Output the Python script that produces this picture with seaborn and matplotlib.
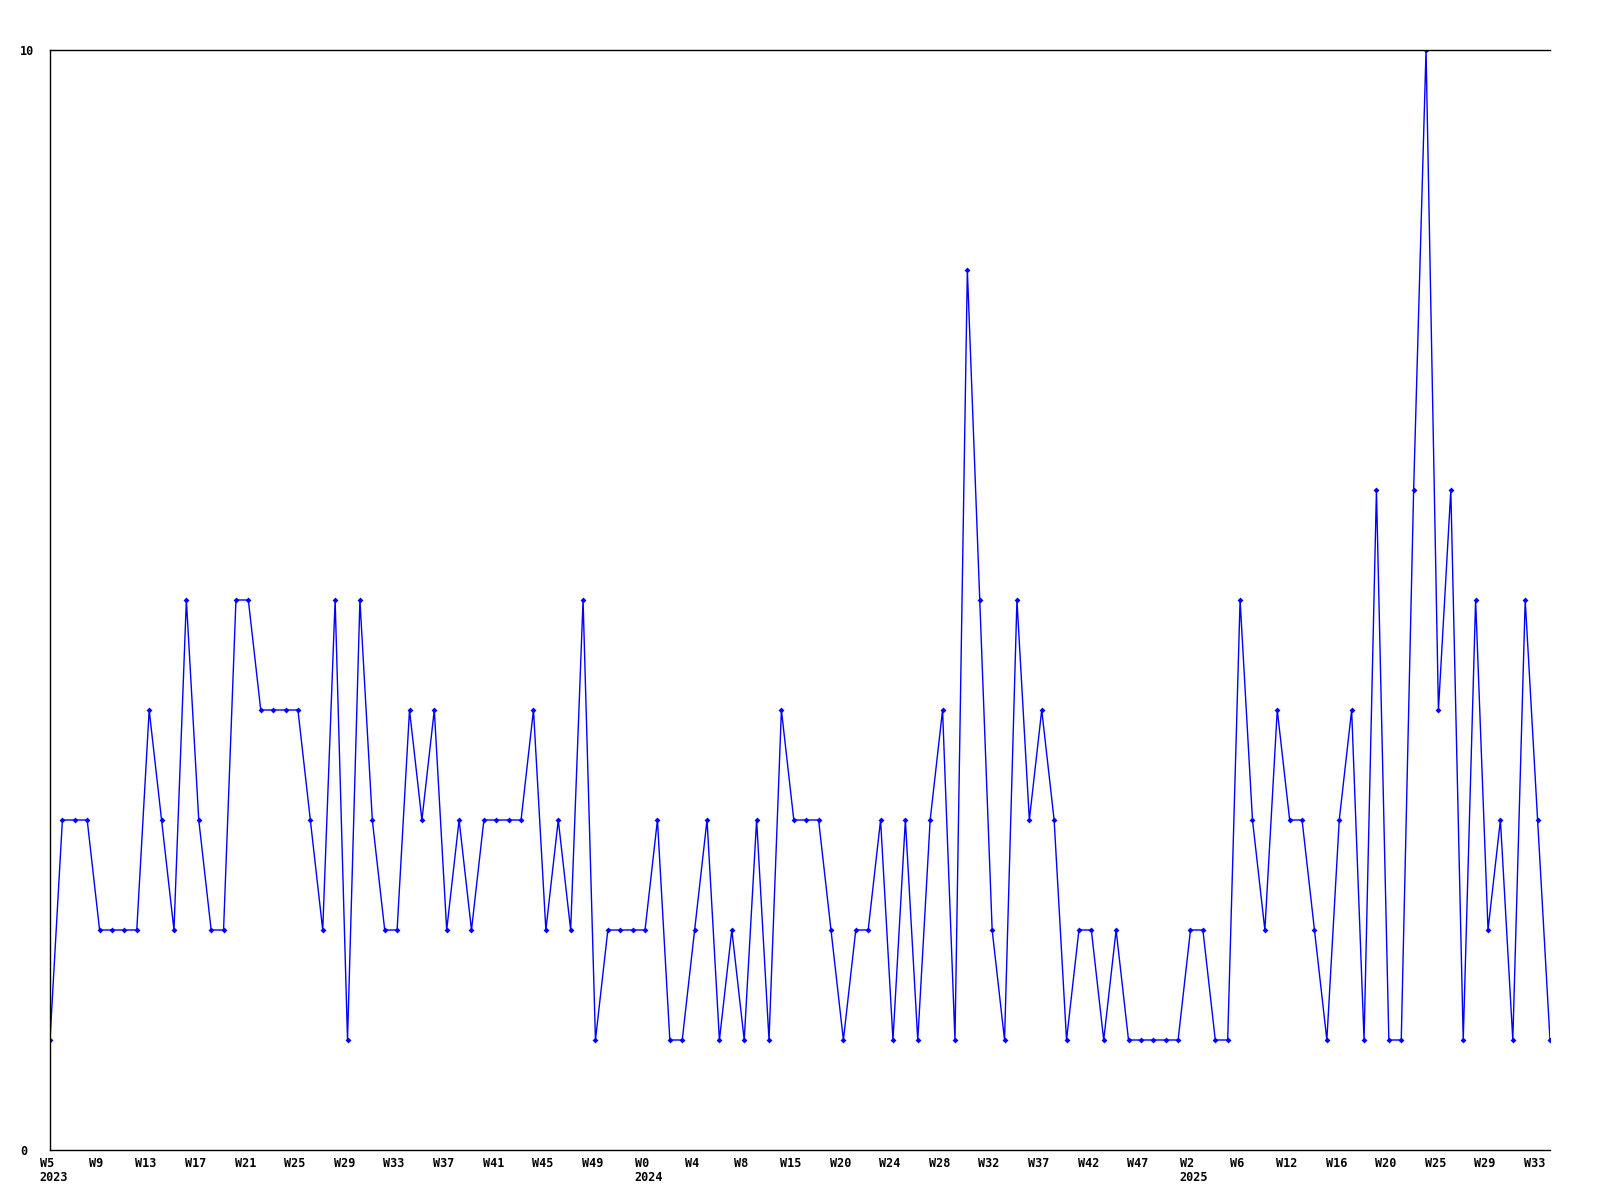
import matplotlib
matplotlib.use('Agg')
import matplotlib.pyplot as plt
import matplotlib.transforms as mtransforms
import seaborn as sns
import pandas as pd

# weekly counts, one per week, from 2023 W5 onwards
valores = [
    1, 3, 3, 3, 2, 2, 2, 2, 4, 3, 2, 5, 3, 2, 2, 5, 5, 4, 4, 4,
    4, 3, 2, 5, 1, 5, 3, 2, 2, 4, 3, 4, 2, 3, 2, 3, 3, 3, 3, 4,
    2, 3, 2, 5, 1, 2, 2, 2, 2, 3, 1, 1, 2, 3, 1, 2, 1, 3, 1, 4,
    3, 3, 3, 2, 1, 2, 2, 3, 1, 3, 1, 3, 4, 1, 8, 5, 2, 1, 5, 3,
    4, 3, 1, 2, 2, 1, 2, 1, 1, 1, 1, 1, 2, 2, 1, 1, 5, 3, 2, 4,
    3, 3, 2, 1, 3, 4, 1, 6, 1, 1, 6, 10, 4, 6, 1, 5, 2, 3, 1, 5,
    3, 1,
]

# a label under every 4th point
semanas = ['W5', 'W9', 'W13', 'W17', 'W21', 'W25', 'W29', 'W33', 'W37', 'W41',
           'W45', 'W49', 'W0', 'W4', 'W8', 'W15', 'W20', 'W24', 'W28', 'W32',
           'W37', 'W42', 'W47', 'W2', 'W6', 'W12', 'W16', 'W20', 'W25', 'W29',
           'W33']
anos = {0: '2023', 48: '2024', 92: '2025'}

df = pd.DataFrame({'idx': range(len(valores)), 'valor': valores})

sns.set_style('white')
plt.rcParams['font.family'] = ['DejaVu Sans Mono']

fig = plt.figure(figsize=(16, 12), dpi=100)
ax = fig.add_axes([50 / 1600, 50 / 1200, 1500 / 1600, 1100 / 1200])

sns.lineplot(data=df, x='idx', y='valor', ax=ax, color='#0000ff', lw=1,
             marker='D', markersize=3, markeredgewidth=0)

ax.set_xlim(0, len(valores) - 1)
ax.set_ylim(0, 10)
ax.set_xlabel('')
ax.set_ylabel('')

fonte = dict(fontsize=8.5, fontweight='bold', color='black')

ax.set_yticks([0, 10])
ax.set_yticklabels(['0', '10'], ha='left', **fonte)
ax.tick_params(axis='y', length=0, pad=21.6)

pos = list(range(0, len(valores), 4))[:len(semanas)]
ax.set_xticks(pos)
ax.set_xticklabels(semanas, **fonte)
ax.tick_params(axis='x', length=0, pad=5)

# labels sit a few pixels left of the point
desloc = mtransforms.ScaledTranslation(-3 / 100, 0, fig.dpi_scale_trans)
for lbl in ax.get_xticklabels():
    lbl.set_transform(lbl.get_transform() + desloc)

for i, ano in anos.items():
    ax.annotate(ano, xy=(i, 0), xycoords='data', xytext=(-8, -15),
                textcoords='offset points', ha='left', va='top', **fonte)

for lado in ['left', 'top', 'bottom']:
    ax.spines[lado].set_color('black')
    ax.spines[lado].set_linewidth(1)
ax.spines['right'].set_visible(False)

plt.savefig('out.png', dpi=100)
plt.close()
